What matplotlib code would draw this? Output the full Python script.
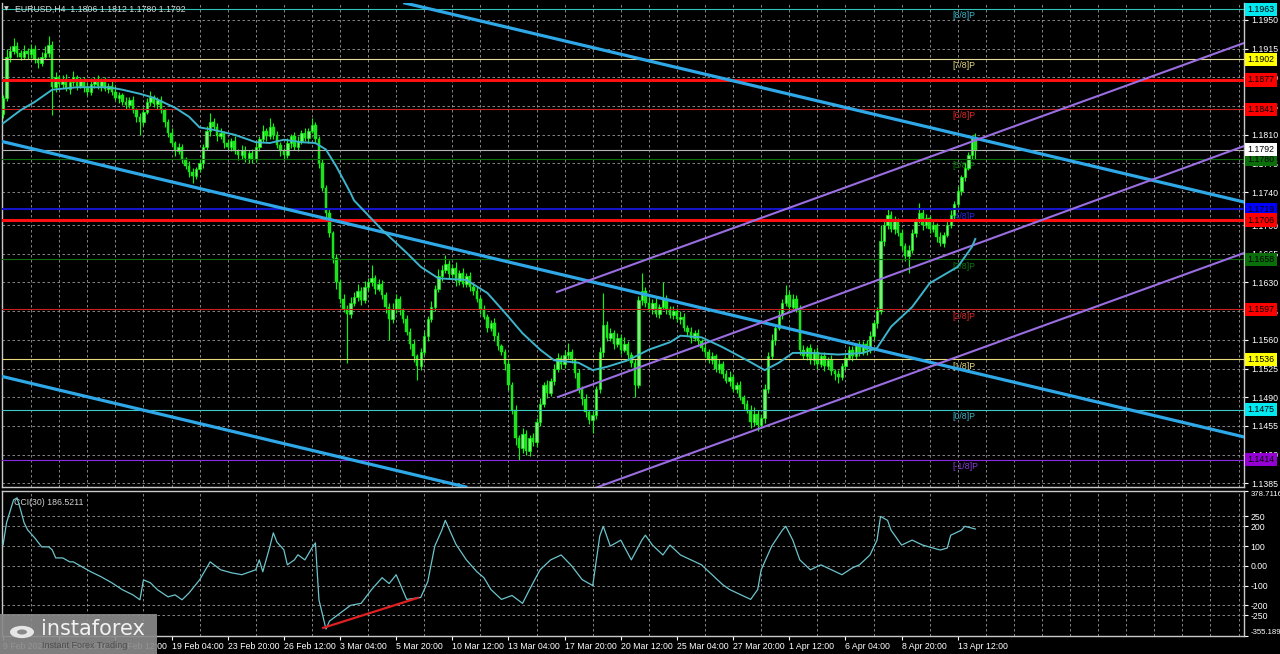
import matplotlib
matplotlib.use("Agg")
import matplotlib.pyplot as plt
import matplotlib.transforms as mtransforms
from matplotlib.patches import Rectangle, Circle
import numpy as np

plt.rcParams['font.family'] = ['Liberation Sans', 'DejaVu Sans']

# ── EURUSD H4 bars (open of each bar = close of the previous one) ──
first_open = 1.1835
closes = [
    1.1855, 1.1905, 1.1912, 1.1918, 1.1910, 1.1905, 1.1912, 1.1908, 1.1915, 1.1902,
    1.1898, 1.1905, 1.1910, 1.1920, 1.1868, 1.1880, 1.1872, 1.1878, 1.1866, 1.1874,
    1.1880, 1.1870, 1.1876, 1.1868, 1.1862, 1.1872, 1.1878, 1.1870, 1.1875, 1.1866,
    1.1870, 1.1862, 1.1855, 1.1858, 1.1850, 1.1846, 1.1852, 1.1840, 1.1832, 1.1825,
    1.1838, 1.1850, 1.1856, 1.1848, 1.1852, 1.1840, 1.1825, 1.1812, 1.1800, 1.1790,
    1.1795, 1.1780, 1.1772, 1.1765, 1.1760, 1.1768, 1.1775, 1.1795, 1.1815, 1.1825,
    1.1820, 1.1808, 1.1812, 1.1800, 1.1795, 1.1802, 1.1790, 1.1785, 1.1792, 1.1782,
    1.1788, 1.1780, 1.1795, 1.1805, 1.1815, 1.1808, 1.1820, 1.1810, 1.1798, 1.1790,
    1.1785, 1.1800, 1.1808, 1.1795, 1.1802, 1.1812, 1.1806, 1.1815, 1.1822, 1.1805,
    1.1775, 1.1745, 1.1715, 1.1690, 1.1660, 1.1630, 1.1610, 1.1598, 1.1592, 1.1605,
    1.1612, 1.1620, 1.1608, 1.1625, 1.1630, 1.1635, 1.1622, 1.1628, 1.1615, 1.1600,
    1.1585, 1.1598, 1.1610, 1.1596, 1.1585, 1.1570, 1.1555, 1.1540, 1.1528, 1.1545,
    1.1565, 1.1585, 1.1600, 1.1622, 1.1638, 1.1645, 1.1652, 1.1640, 1.1648, 1.1632,
    1.1642, 1.1628, 1.1638, 1.1625, 1.1620, 1.1610, 1.1598, 1.1588, 1.1575, 1.1580,
    1.1565, 1.1552, 1.1545, 1.1530, 1.1505, 1.1475, 1.1440, 1.1428, 1.1445, 1.1425,
    1.1440, 1.1435, 1.1460, 1.1482, 1.1505, 1.1495, 1.1510, 1.1525, 1.1538, 1.1530,
    1.1542, 1.1545, 1.1535, 1.1520, 1.1500, 1.1488, 1.1472, 1.1462, 1.1468, 1.1500,
    1.1545, 1.1578, 1.1562, 1.1568, 1.1555, 1.1562, 1.1548, 1.1555, 1.1542, 1.1532,
    1.1505, 1.1608, 1.1620, 1.1605, 1.1598, 1.1605, 1.1592, 1.1600, 1.1610, 1.1598,
    1.1590, 1.1595, 1.1585, 1.1588, 1.1575, 1.1570, 1.1562, 1.1568, 1.1558, 1.1550,
    1.1545, 1.1535, 1.1540, 1.1525, 1.1530, 1.1518, 1.1510, 1.1515, 1.1500, 1.1505,
    1.1490, 1.1482, 1.1475, 1.1460, 1.1470, 1.1456, 1.1465, 1.1500, 1.1540, 1.1560,
    1.1575, 1.1590, 1.1605, 1.1615, 1.1600, 1.1610, 1.1598, 1.1548, 1.1540, 1.1550,
    1.1535, 1.1545, 1.1530, 1.1540, 1.1528, 1.1535, 1.1522, 1.1518, 1.1515, 1.1528,
    1.1538, 1.1548, 1.1540, 1.1552, 1.1545, 1.1555, 1.1548, 1.1565, 1.1580, 1.1595,
    1.1680, 1.1700, 1.1712, 1.1695, 1.1705, 1.1690, 1.1675, 1.1662, 1.1670, 1.1690,
    1.1705, 1.1715, 1.1700, 1.1708, 1.1695, 1.1700, 1.1685, 1.1678, 1.1688, 1.1700,
    1.1712, 1.1725, 1.1742, 1.1758, 1.1770, 1.1785, 1.1806, 1.1792,
]
# wick beyond the body, in pips
up_wick = [
    4, 10, 6, 10, 5, 3, 7, 4, 6, 5,
    3, 6, 8, 10, 4, 7, 3, 5, 6, 4,
    8, 3, 5, 4, 6, 7, 3, 5, 4, 6,
    3, 5, 7, 4, 3, 6, 4, 5, 3, 4,
    6, 5, 7, 3, 4, 5, 3, 4, 6, 3,
    5, 4, 3, 6, 4, 3, 5, 4, 6, 12,
    5, 4, 6, 3, 5, 4, 6, 3, 5, 4,
    3, 5, 6, 4, 7, 3, 10, 4, 5, 3,
    4, 6, 3, 5, 7, 4, 6, 3, 8, 4,
    3, 5, 4, 6, 3, 5, 4, 6, 5, 7,
    6, 8, 4, 7, 5, 16, 4, 6, 5, 3,
    5, 7, 6, 4, 3, 5, 4, 6, 3, 5,
    6, 4, 7, 5, 8, 6, 11, 5, 4, 7,
    3, 6, 4, 5, 3, 6, 4, 5, 3, 4,
    6, 5, 3, 4, 6, 3, 5, 4, 7, 5,
    4, 6, 5, 7, 4, 6, 3, 5, 6, 4,
    5, 11, 4, 3, 5, 4, 6, 3, 5, 4,
    6, 39, 5, 7, 4, 6, 5, 8, 4, 3,
    5, 6, 21, 4, 7, 5, 6, 4, 20, 5,
    3, 6, 4, 7, 5, 3, 6, 4, 5, 3,
    6, 4, 5, 3, 6, 4, 5, 7, 3, 4,
    5, 3, 4, 6, 8, 5, 4, 6, 5, 7,
    4, 6, 5, 12, 4, 6, 5, 4, 6, 3,
    5, 4, 6, 3, 5, 4, 6, 3, 5, 4,
    6, 4, 5, 3, 7, 4, 5, 6, 4, 5,
    20, 6, 7, 5, 6, 4, 5, 3, 6, 5,
    4, 12, 5, 6, 4, 5, 3, 6, 4, 5,
    6, 4, 5, 3, 6, 4, 4, 6,
]
dn_wick = [
    5, 4, 6, 3, 5, 4, 3, 6, 4, 5,
    6, 4, 3, 5, 34, 6, 4, 5, 3, 6,
    4, 5, 3, 6, 4, 3, 5, 4, 6, 3,
    5, 4, 3, 6, 4, 5, 3, 4, 6, 15,
    4, 3, 5, 4, 6, 3, 5, 5, 4, 6,
    3, 5, 4, 6, 9, 4, 3, 5, 4, 6,
    4, 5, 3, 6, 4, 5, 3, 6, 4, 5,
    6, 4, 3, 5, 4, 6, 3, 5, 4, 6,
    5, 3, 6, 4, 5, 3, 4, 6, 3, 5,
    6, 4, 7, 5, 6, 8, 5, 4, 60, 6,
    4, 5, 6, 3, 5, 4, 6, 3, 5, 7,
    25, 4, 5, 6, 5, 4, 6, 7, 17, 5,
    4, 6, 3, 5, 4, 6, 3, 5, 4, 6,
    5, 3, 4, 6, 5, 4, 6, 3, 5, 4,
    6, 5, 4, 7, 6, 5, 8, 15, 6, 5,
    7, 4, 6, 5, 4, 6, 3, 5, 4, 6,
    4, 5, 3, 6, 5, 7, 6, 5, 16, 4,
    5, 6, 4, 3, 6, 4, 5, 3, 6, 5,
    15, 4, 6, 5, 3, 6, 4, 5, 3, 6,
    4, 5, 3, 6, 4, 5, 6, 3, 5, 4,
    6, 3, 5, 4, 6, 5, 3, 6, 4, 5,
    3, 6, 4, 8, 5, 7, 4, 6, 5, 4,
    6, 3, 5, 4, 6, 5, 4, 6, 3, 5,
    4, 6, 5, 3, 6, 4, 5, 7, 8, 4,
    5, 3, 6, 4, 5, 3, 6, 4, 5, 6,
    4, 6, 5, 3, 6, 4, 5, 6, 20, 4,
    5, 3, 6, 4, 5, 3, 6, 4, 5, 3,
    4, 6, 3, 5, 4, 3, 5, 12,
]

# moving average (bar index, price)
ma_bars = [0, 5, 9, 14, 21, 30, 34, 39, 43, 49, 53, 56, 60, 66, 72, 76, 80, 85, 89, 92,
           95, 99, 100, 108, 115, 119, 124, 132, 138, 143, 148, 153, 157, 164, 168, 172,
           178, 184, 190, 193, 199, 205, 212, 217, 221, 225, 230, 238, 245, 249, 253,
           259, 264, 268, 272, 276, 277]
ma_vals = [1.1824, 1.1840, 1.1850, 1.1865, 1.1868, 1.1868, 1.1865, 1.1860, 1.1855, 1.1843,
           1.1832, 1.1819, 1.1816, 1.1810, 1.1801, 1.1800, 1.1804, 1.1801, 1.1800, 1.1792,
           1.1771, 1.1739, 1.1730, 1.1694, 1.1666, 1.1649, 1.1635, 1.1633, 1.1617, 1.1593,
           1.1568, 1.1548, 1.1535, 1.1532, 1.1523, 1.1527, 1.1535, 1.1548, 1.1557, 1.1565,
           1.1563, 1.1551, 1.1535, 1.1523, 1.1532, 1.1544, 1.1544, 1.1542, 1.1544, 1.1550,
           1.1576, 1.1600, 1.1629, 1.1639, 1.1649, 1.1673, 1.1683]

# CCI(30)
cci_bars = [0, 1, 3, 4, 5, 6, 7, 9, 11, 13, 14, 15, 17, 19, 20, 22, 25, 28, 31, 34,
            37, 39, 40, 42, 44, 47, 49, 51, 53, 56, 59, 62, 65, 68, 72, 73, 74, 76, 77, 78,
            80, 81, 83, 84, 86, 88, 89, 90, 92, 93, 96, 99, 102, 105, 108, 110, 112, 115, 117, 119,
            121, 123, 125, 126, 129, 132, 135, 137, 139, 142, 145, 148, 150, 153, 156, 159, 162, 165, 168, 170,
            171, 173, 176, 179, 182, 183, 185, 188, 190, 193, 196, 199, 202, 205, 207, 210, 213, 215, 216, 219,
            222, 223, 225, 227, 230, 233, 236, 239, 242, 244, 247, 249, 250, 252, 253, 256, 259, 262, 264, 267,
            269, 270, 273, 274, 277]
cci_vals = [106, 218, 334, 344, 283, 218, 182, 142, 96, 96, 81, 40, 40, 20, 20, 0, -30, -56, -86, -121,
            -147, -172, -71, -86, -121, -157, -147, -172, -137, -71, 20, -20, -35, -45, -20, 30, -30, 96, 167, 121,
            81, 5, 30, 56, 30, 91, 116, -172, -320, -280, -240, -200, -190, -120, -60, -90, -45, -170, -165, -160,
            -80, 100, 180, 230, 110, 30, -30, -60, -120, -170, -150, -190, -120, -20, 30, 55, 0, -70, -100, 150,
            200, 100, 130, 30, 130, 155, 105, 55, 105, 55, 30, 5, -45, -95, -120, -145, -170, -120, -20, 100,
            180, 200, 130, 30, -20, 5, -20, -45, -10, 5, 55, 130, 250, 230, 180, 105, 130, 105, 95, 80,
            90, 155, 180, 200, 186.52]
cci_last = 186.5211
div_bars = [91.2, 118.2]
div_vals = [-314, -162]

# axis labels
x_tick_bars = [0, 16, 32, 48, 64, 80, 96, 112, 128, 144, 160, 176, 192, 208, 224, 240, 256, 272]
x_tick_labels = ['9 Feb 2026', '11 Feb 20:00', '16 Feb 12:00', '19 Feb 04:00', '23 Feb 20:00',
                 '26 Feb 12:00', '3 Mar 04:00', '5 Mar 20:00', '10 Mar 12:00', '13 Mar 04:00',
                 '17 Mar 20:00', '20 Mar 12:00', '25 Mar 04:00', '27 Mar 20:00', '1 Apr 12:00',
                 '6 Apr 04:00', '8 Apr 20:00', '13 Apr 12:00']
price_ticks = [1.1385, 1.1420, 1.1455, 1.1490, 1.1525, 1.1560, 1.1595, 1.1630, 1.1665,
               1.1700, 1.1740, 1.1775, 1.1810, 1.1845, 1.1880, 1.1915, 1.1950]
cci_ticks = [378.7116, 250, 200, 100, 0, -100, -200, -250, -355.189]
cci_tick_labels = ['378.7116', '250', '200', '100', '0.00', '-100', '-200', '-250', '-355.189']

# Murray levels and other horizontal lines
murray_levels = [1.1963, 1.1902, 1.1841, 1.1780, 1.1719, 1.1658, 1.1597, 1.1536, 1.1475, 1.1414]
murray_names = ['[8/8]P', '[7/8]P', '[6/8]P', '[5/8]P', '[4/8]P', '[3/8]P', '[2/8]P',
                '[1/8]P', '[0/8]P', '[-1/8]P']
sr_levels = [1.1877, 1.1706]
last_price = 1.1792
title_text = 'EURUSD,H4  1.1806 1.1812 1.1780 1.1792'

# trend lines: (bar, price) anchors
blue_lines = [((114.5, 1.19707), (353.6, 1.17280)),
              ((-0.85, 1.18024), (353.6, 1.14415)),
              ((-0.85, 1.15159), (133.0, 1.13793))]
purple_lines = [((157.8, 1.16183), (353.6, 1.19220)),
                ((158.1, 1.14902), (353.6, 1.17963)),
                ((158.0, 1.13627), (353.6, 1.16659))]

# ── styles ──
murray_colors = ['#2ec4b6', '#e6dc9a', '#c81e1e', '#0b6e0b', '#1414c8', '#0b6e0b',
                 '#c81e1e', '#e6d87a', '#3cc8c8', '#8a2be2']
murray_text_colors = ['#3cb4c8', '#e6dc82', '#dc2828', '#0b7a0b', '#2828e6', '#0b7a0b',
                      '#dc2828', '#e6dc82', '#3cb4c8', '#8c3cdc']
murray_box_colors = ['#00e8f0', '#ffff00', '#ff0000', '#0a6e0a', '#0000ff', '#0a6e0a',
                     '#ff0000', '#ffff00', '#00e8f0', '#9400d3']
GRID = dict(color='#9a9a9a', ls=(0, (3, 3)), lw=0.6)
FS = 6.3

W, H = 1280.0, 654.0
fig = plt.figure(figsize=(12.8, 6.54), dpi=100, facecolor='black')
ax = fig.add_axes([2 / W, 1 - 487 / H, 1242 / W, 484 / H], facecolor='black')
cax = fig.add_axes([2 / W, 1 - 636 / H, 1242 / W, 145 / H], facecolor='black')

xmin, xmax = -0.3, 353.55
grid_bars = np.arange(8, 354, 8)

for a in (ax, cax):
    a.set_xlim(xmin, xmax)
    for s in a.spines.values():
        s.set_color('#c8c8c8')
        s.set_linewidth(1.0)
    a.set_xticks(grid_bars, minor=True)
    a.grid(True, which='minor', axis='x', **GRID)
    a.grid(True, which='major', axis='y', **GRID)
    a.yaxis.tick_right()
    a.tick_params(axis='y', colors='white', labelsize=FS, length=3, width=0.8, pad=2)
    a.tick_params(axis='x', which='minor', length=0)
    a.set_axisbelow(True)
ax.spines['top'].set_visible(False)

# ── candles ──
n = len(closes)
bars = np.arange(n)
c = np.array(closes)
o = np.array([first_open] + closes[:-1])
top = np.maximum(o, c)
bot = np.minimum(o, c)
hi = top + np.array(up_wick) * 1e-4
lo = bot - np.array(dn_wick) * 1e-4
ax.vlines(bars, lo, hi, color='#00ff00', lw=0.8, zorder=4)
bull = c >= o
ax.bar(bars[bull], np.maximum(top - bot, 6e-5)[bull], bottom=bot[bull], width=0.7,
       color='#7cf07c', edgecolor='#00ff00', linewidth=0.5, zorder=4)
ax.bar(bars[~bull], np.maximum(top - bot, 6e-5)[~bull], bottom=bot[~bull], width=0.7,
       color='#22dd22', edgecolor='#00ff00', linewidth=0.3, zorder=4)

ax.set_ylim(1.138049, 1.197073)
ax.set_yticks(price_ticks, [f'{v:.4f}' for v in price_ticks])
ax.set_xticks([])

# ── horizontal levels ──
for lvl, col in zip(murray_levels, murray_colors):
    lw = 1.5 if lvl == 1.1719 else 0.8
    ax.axhline(lvl, color=col, lw=lw, zorder=5)
for lvl in sr_levels:
    ax.axhline(lvl, color='#ff1010', lw=2.2, zorder=5)
ax.axhline(last_price, color='#b4b4b4', lw=0.8, zorder=5)

for lvl, name, col in zip(murray_levels, murray_names, murray_text_colors):
    ax.annotate(name, xy=(270.6, lvl), xytext=(0, -1.5), textcoords='offset points',
                ha='left', va='top', color=col, fontsize=FS, zorder=3)

# ── trend lines ──
for p1, p2 in blue_lines:
    ax.axline(p1, p2, color='#2fa8e8', lw=2.3, zorder=6)
for p1, p2 in purple_lines:
    ax.plot([p1[0], p2[0]], [p1[1], p2[1]], color='#9a6ee0', lw=1.5, zorder=6)

ax.plot(ma_bars, ma_vals, color='#3cb4cc', lw=1.4, zorder=7)

# ── price boxes on the right ──
trans = mtransforms.blended_transform_factory(ax.transAxes, ax.transData)
box_prices = murray_levels + sr_levels + [last_price]
box_colors = murray_box_colors + ['#ff0000', '#ff0000', '#ffffff']
for p, col in zip(box_prices, box_colors):
    ax.text(1.0 + 3.5 / 1242, p, f'{p:.4f}', transform=trans, ha='left', va='center',
            fontsize=FS, color='black', clip_on=False, zorder=10,
            bbox=dict(boxstyle='square,pad=0.25', fc=col, ec='none'))

fig.text(4 / W, 1 - 9 / H, '\u25bc', color='#d0d0d0', fontsize=4.5, va='center', ha='left',
         family=['DejaVu Sans'])
fig.text(15 / W, 1 - 9 / H, title_text, color='#d0d8d4', fontsize=FS, va='center', ha='left')

# ── CCI window ──
cax.plot(cci_bars, cci_vals, color='#6cc4cc', lw=0.9, zorder=4)
cax.plot(div_bars, div_vals, color='#e02020', lw=1.6, zorder=5)
cax.set_ylim(cci_ticks[-1], cci_ticks[0])
cax.set_yticks(cci_ticks, cci_tick_labels)
ylabs = cax.get_yticklabels()
ylabs[0].set_va('top')
ylabs[-1].set_va('bottom')
for lab in (ylabs[0], ylabs[-1]):
    lab.set_fontsize(5.6)
cax.tick_params(axis='y', pad=1.5)
cax.set_xticks(x_tick_bars, x_tick_labels)
cax.tick_params(axis='x', which='major', colors='white', labelsize=FS, length=3, width=0.8, pad=1.5)
for lbl in cax.get_xticklabels():
    lbl.set_ha('left')
cax.text(12 / 1242, 0.955, f'CCI(30) {cci_last:.4f}', transform=cax.transAxes,
         color='#d0d0d0', fontsize=FS, va='top', ha='left')

# ── logo ──
fig.patches.append(Rectangle((0, 0), 157 / W, 40 / H, transform=fig.transFigure,
                             fc='#8a8a8a', ec='none', alpha=0.92, zorder=20))
fig.patches.append(Circle((22 / W, 1 - 632 / H), 12 / W, transform=fig.transFigure,
                          fc='#e6e6e6', ec='none', zorder=21))
fig.patches.append(Circle((22 / W, 1 - 632 / H), 5 / W, transform=fig.transFigure,
                          fc='#8a8a8a', ec='none', zorder=22))
fig.text(41 / W, 1 - 629 / H, 'instaforex', color='#f2f2f2', fontsize=15, va='center',
         ha='left', family=['DejaVu Sans'], zorder=23)
fig.text(42 / W, 1 - 646 / H, 'Instant Forex Trading', color='#4e4e4e', fontsize=6.5,
         va='center', ha='left', zorder=23)

fig.savefig('out.png', dpi=100, facecolor='black')
